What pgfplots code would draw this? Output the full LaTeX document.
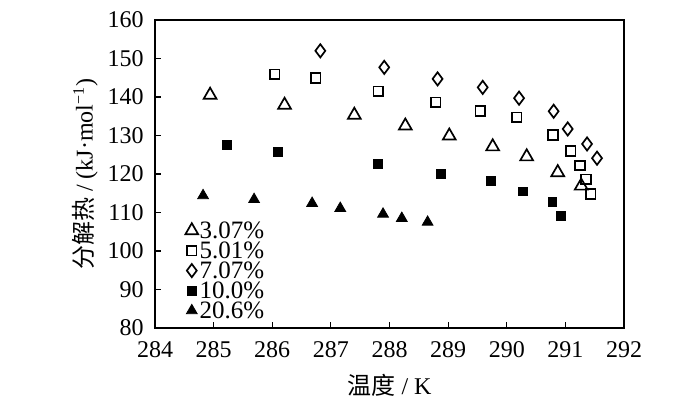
\documentclass[border=0pt]{standalone}
\usepackage{fontspec}
\setmainfont{Liberation Serif}
\newfontfamily\cjk{Noto Sans CJK SC}
\usepackage{pgfplots}
\pgfplotsset{compat=1.18}
\begin{document}
\fontsize{12}{14}\selectfont
\begin{tikzpicture}
\begin{axis}[
  name=ax,
  scale only axis,
  width=234.5pt, height=154pt,
  xmin=284, xmax=292, ymin=80, ymax=160,
  xtick={284,285,...,292}, ytick={80,90,...,160},
  tick align=inside, tick pos=left, major tick length=3pt,
  axis line style={line width=0.6pt},
  tick style={line width=0.6pt, black},
  /pgf/number format/assume math mode=true,
  /pgf/number format/1000 sep={},
  font=\fontsize{12}{14}\selectfont,
  xticklabel style={anchor=center, yshift=-11pt},
  yticklabel style={anchor=east, inner sep=0pt, xshift=-5.5pt},
  xlabel={{\cjk 温度} / K},
  ylabel={{\cjk 分解热} / (kJ·mol\textsuperscript{−1})},
  x label style={at={(axis description cs:0.5,-0.185)}, anchor=center},
  y label style={at={(axis description cs:-0.149,0.5)}, anchor=center},
  legend cell align=left,
  legend image code/.code={\draw[mark repeat=2,mark phase=2,#1] plot coordinates {(0pt,0pt)(3pt,0pt)(6pt,0pt)};},
  legend style={draw=none, fill=none, at={(axis description cs:0,0)}, anchor=south west,
    xshift=15pt, yshift=3.5pt, inner sep=0pt, row sep=0pt,
    font=\fontsize{12.5}{13}\selectfont,
    nodes={inner sep=0.7pt, text height=8.4pt, text depth=0.2pt}},
]
\addplot[only marks, mark=triangle, mark size=3.7pt, mark options={line width=0.85pt, fill=white}, black] coordinates {
(284.94,140.5)(286.21,137.9)(287.40,135.3)(288.27,132.5)(289.02,129.9)(289.76,127.1)(290.34,124.5)(290.87,120.4)(291.27,116.9)};
\addlegendentry{3.07\%}
\addplot[only marks, mark=square, mark size=2.4pt, mark options={line width=0.85pt, fill=white}, black] coordinates {
(286.04,145.9)(286.74,144.9)(287.81,141.5)(288.79,138.6)(289.55,136.4)(290.17,134.7)(290.79,130.1)(291.09,126.0)(291.25,122.2)(291.35,118.6)(291.43,114.8)};
\addlegendentry{5.01\%}
\addplot[only marks, mark=diamond, mark size=3.3pt, mark options={line width=0.85pt, fill=white}, black] coordinates {
(286.82,152.0)(287.91,147.7)(288.82,144.7)(289.59,142.5)(290.21,139.7)(290.80,136.3)(291.04,131.7)(291.37,127.8)(291.54,124.1)};
\addlegendentry{7.07\%}
\addplot[only marks, mark=square*, mark size=2.2pt, mark options={fill=black}, black] coordinates {
(285.23,127.5)(286.10,125.7)(287.80,122.6)(288.88,120.1)(289.73,118.2)(290.27,115.5)(290.78,112.8)(290.92,109.1)};
\addlegendentry{10.0\%}
\addplot[only marks, mark=triangle*, mark size=3.1pt, mark options={fill=black}, black] coordinates {
(284.82,114.4)(285.69,113.4)(286.68,112.4)(287.16,111.1)(287.89,109.6)(288.21,108.5)(288.65,107.5)};
\addlegendentry{20.6\%}
\end{axis}
\path ([shift={(-77.5pt,-37.5pt)}]ax.south west) rectangle ([shift={(272.5pt,164pt)}]ax.south west);
\end{tikzpicture}
\end{document}
